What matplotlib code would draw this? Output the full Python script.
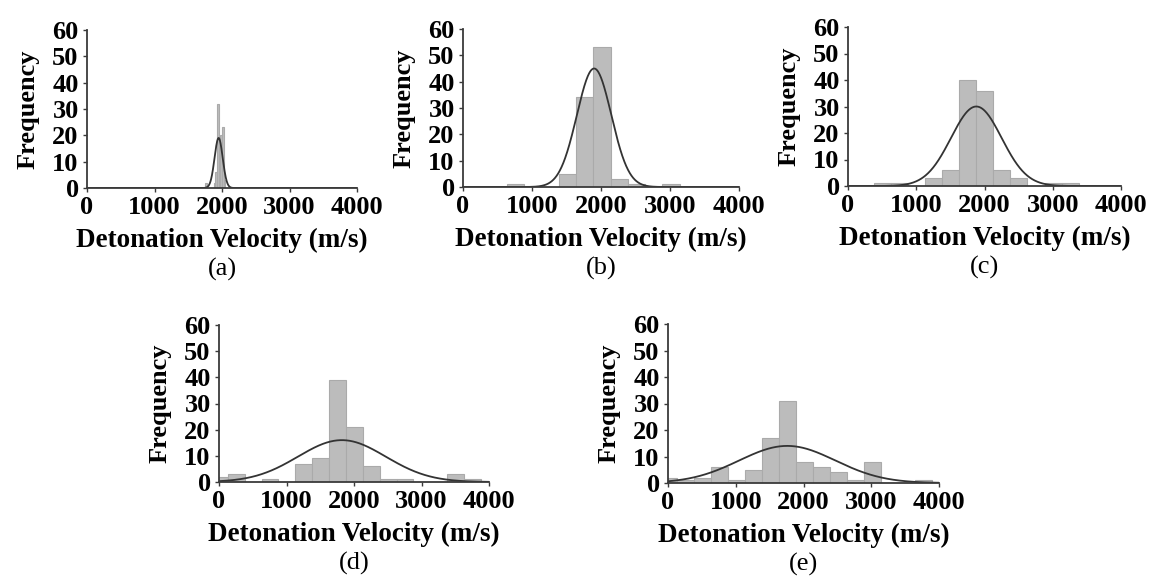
import numpy as np
import matplotlib
matplotlib.use("Agg")
import matplotlib.pyplot as plt

plt.rcParams["font.family"] = ["Liberation Serif", "DejaVu Serif"]

# ============================================================
# 1. 데이터
# ============================================================
# 각 패널: 막대 왼쪽 경계, 빈도, 구간 폭, 정규분포 곡선(평균, 표준편차, 최대값)
left_a = [1750, 1875, 1900, 1925, 1950, 1975, 2000, 2025]
count_a = [2, 2, 6, 32, 14, 20, 23, 3]
width_a = 25
fit_a = [1950, 60, 19]

left_b = [640, 1390, 1640, 1890, 2140, 2390, 2890]
count_b = [1, 5, 34, 53, 3, 1, 1]
width_b = 250
fit_b = [1900, 250, 45]

left_c = [380, 630, 1130, 1380, 1630, 1880, 2130, 2380, 2880, 3130]
count_c = [1, 1, 3, 6, 40, 36, 6, 3, 1, 1]
width_c = 250
fit_c = [1880, 370, 30]

left_d = [-120, 130, 630, 1130, 1380, 1630, 1880, 2130, 2380, 2630, 3380, 3630]
count_d = [2, 3, 1, 7, 9, 39, 21, 6, 1, 1, 3, 1]
width_d = 250
fit_d = [1820, 650, 16]

left_e = [-110, 140, 390, 640, 890, 1140, 1390, 1640, 1890, 2140, 2390, 2640, 2890, 3640]
count_e = [2, 1, 2, 6, 1, 5, 17, 31, 8, 6, 4, 1, 8, 1]
width_e = 250
fit_e = [1760, 710, 14]

panel_names = ["(a)", "(b)", "(c)", "(d)", "(e)"]
x_ticks = [0, 1000, 2000, 3000, 4000]
y_ticks = [0, 10, 20, 30, 40, 50, 60]

# ============================================================
# 2. 그림 배치 (픽셀 단위: 왼쪽, 위, 오른쪽, 아래)
# ============================================================
W, H = 1151, 579
boxes = [
    (87, 30, 357, 188),
    (463, 29, 739, 187),
    (848, 27, 1121, 186),
    (219, 325, 489, 482),
    (668, 324, 939, 483),
]
panels = [
    (left_a, count_a, width_a, fit_a),
    (left_b, count_b, width_b, fit_b),
    (left_c, count_c, width_c, fit_c),
    (left_d, count_d, width_d, fit_d),
    (left_e, count_e, width_e, fit_e),
]

fig = plt.figure(figsize=(W / 100, H / 100), dpi=100)

axis_color = "#3a3a3a"
x_curve = np.linspace(0, 4000, 1200)

for (l, t, r, b), (lefts, counts, bw, fit), name in zip(boxes, panels, panel_names):
    ax = fig.add_axes([l / W, 1 - b / H, (r - l) / W, (b - t) / H])

    ax.bar(lefts, counts, width=bw, align="edge",
           color="#bcbcbc", edgecolor="#aaaaaa", linewidth=0.8, zorder=2)

    mu, sd, peak = fit
    ax.plot(x_curve, peak * np.exp(-0.5 * ((x_curve - mu) / sd) ** 2),
            color="#333333", linewidth=1.3, zorder=3)

    ax.set_xlim(0, 4000)
    ax.set_ylim(0, 60)
    ax.set_xticks(x_ticks)
    ax.set_yticks(y_ticks)

    for side in ["top", "right"]:
        ax.spines[side].set_visible(False)
    for side in ["left", "bottom"]:
        ax.spines[side].set_color(axis_color)
        ax.spines[side].set_linewidth(1.3)
        ax.spines[side].set_zorder(4)

    ax.tick_params(direction="out", length=3, width=1, color=axis_color,
                   labelsize=19, pad=3)
    for lab in ax.get_xticklabels() + ax.get_yticklabels():
        lab.set_fontweight("bold")

    ax.set_xlabel("Detonation Velocity (m/s)", fontsize=19.5, fontweight="bold", labelpad=6)
    ax.set_ylabel("Frequency", fontsize=19, fontweight="bold", labelpad=9)

    fig.text((l + r) / 2 / W, 1 - (b + 81) / H, name,
             ha="center", va="center", fontsize=19)

plt.savefig("out.png", dpi=100)
